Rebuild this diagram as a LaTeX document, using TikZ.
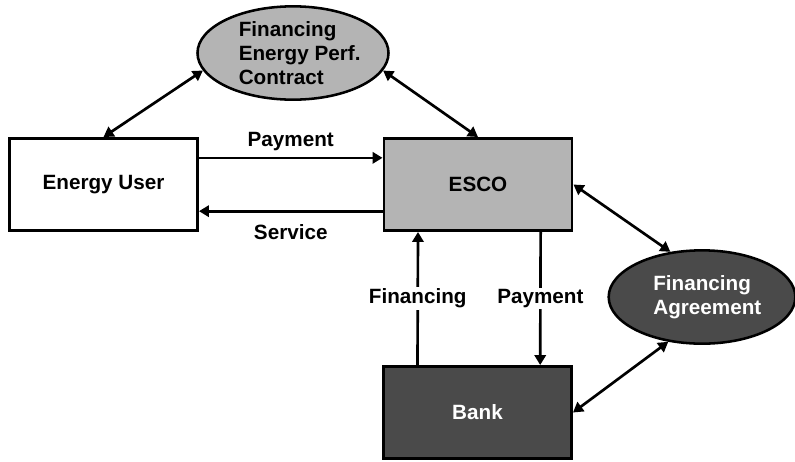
\documentclass[tikz,border=0pt]{standalone}
\usepackage{fontspec}
\setmainfont{Liberation Sans}
\usetikzlibrary{arrows.meta,shapes.geometric}
\definecolor{lightfill}{HTML}{B4B4B4}
\definecolor{darkfill}{HTML}{4A4A4A}
\tikzset{
    party/.style={draw, line width=2.2pt, minimum width=141pt, minimum height=69pt},
    deal/.style={ellipse, draw, line width=1.9pt, inner sep=0pt, align=left,
        minimum width=140pt, minimum height=70pt},
    flow/.style={-{Triangle[length=7.5pt,width=8.5pt]}, line width=2pt},
    link/.style={{Triangle[length=7.5pt,width=8.5pt]}-{Triangle[length=7.5pt,width=8.5pt]}, line width=2pt},
    tag/.style={font=\fontsize{15.5}{18}\selectfont\bfseries}
}
\begin{document}
\begin{tikzpicture}[x=0.75pt,y=-0.75pt, tag]
    \useasboundingbox (0,0) rectangle (795,461);
    % parties
    \node[party, fill=white] (user) at (103.5,184.5) {Energy User};
    \node[party, fill=lightfill] (esco) at (478,184.5) {ESCO};
    \node[party, fill=darkfill, text=white] (bank) at (477.5,412.5) {Bank};
    % contracts
    \node[deal, fill=lightfill] (epc) at (293,53) {\hspace*{10pt}Financing\\\hspace*{10pt}Energy Perf.\\\hspace*{10pt}Contract};
    \node[deal, fill=darkfill, text=white] (agree) at (702,297) {\hspace*{8pt}Financing\\\hspace*{8pt}Agreement};

    \draw[link] (user.north) -- (epc.191);
    \draw[link] (esco.north) -- (epc.349);
    \draw[link] (esco.east) -- (agree.125);
    \draw[link] (bank.east) -- (agree.233);

    \draw[flow] ([yshift=20pt]user.east) -- node[above=1pt] (pay1) {Payment} ([yshift=20pt]esco.west);
    \draw[flow] ([yshift=-20pt]esco.west) -- node[below=6pt] (serv) {Service} ([yshift=-20pt]user.east);
    \draw[flow] ([xshift=-45pt]bank.north) -- node[fill=white, inner sep=1pt] (fin) {Financing} ([xshift=-45pt]esco.south);
    \draw[flow] ([xshift=47pt]esco.south) -- node[fill=white, inner sep=1pt] (pay2) {Payment} ([xshift=47pt]bank.north);
\end{tikzpicture}
\end{document}
